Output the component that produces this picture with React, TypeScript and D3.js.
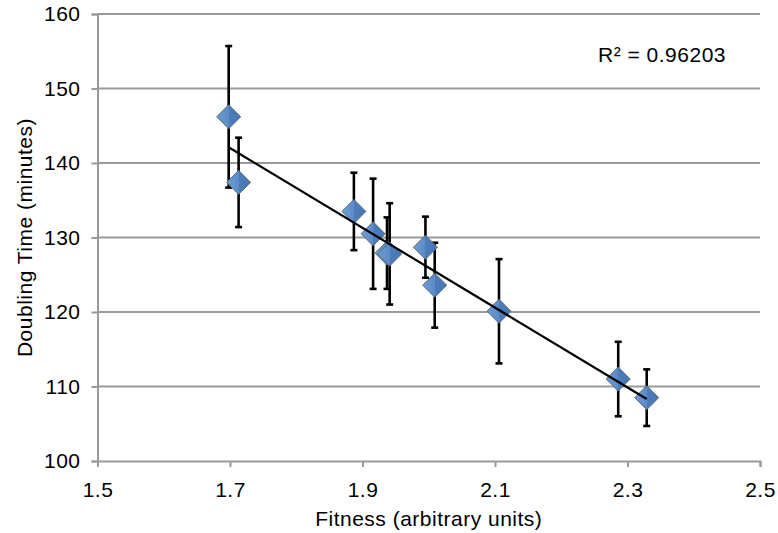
import React, { useEffect, useRef } from "react";
import * as d3 from "d3";

// values
const fitness = [1.698, 1.713, 1.887, 1.916, 1.937, 1.941, 1.995, 2.009, 2.106, 2.286, 2.329];
const doublingTime = [146.2, 137.4, 133.5, 130.5, 127.9, 127.8, 128.7, 123.6, 120.1, 111.0, 108.5];
const errors = [9.5, 6.0, 5.2, 7.4, 4.8, 6.8, 4.1, 5.7, 7.0, 5.0, 3.8];
const xTicks = [1.5, 1.7, 1.9, 2.1, 2.3, 2.5];
const yTicks = [100, 110, 120, 130, 140, 150, 160];
const rSquaredLabel = "R² = 0.96203";

const W = 778;
const H = 533;
const margin = { top: 14, right: 18, bottom: 72, left: 97.5 };

export default function App() {
  const ref = useRef<SVGSVGElement>(null);

  useEffect(() => {
    const svg = d3.select(ref.current);
    svg.selectAll("*").remove();

    const font = "'Liberation Sans', Arial, Helvetica, sans-serif";
    const fs = 21;
    const ls = 0.5;
    const x = d3.scaleLinear().domain([1.5, 2.5]).range([margin.left, W - margin.right]);
    const y = d3.scaleLinear().domain([100, 160]).range([H - margin.bottom, margin.top]);

    const defs = svg.append("defs");
    const grad = defs.append("linearGradient").attr("id", "dia").attr("x1", "0").attr("x2", "1").attr("y1", "0").attr("y2", "0");
    grad.append("stop").attr("offset", "0").attr("stop-color", "#6f9dd3");
    grad.append("stop").attr("offset", "0.5").attr("stop-color", "#5b8bc8");
    grad.append("stop").attr("offset", "0.5").attr("stop-color", "#4d7dbb");
    grad.append("stop").attr("offset", "1").attr("stop-color", "#4676b4");

    // grid lines
    svg.append("g").selectAll("line").data(yTicks.filter((t) => t > 100)).join("line")
      .attr("x1", x(1.5)).attr("x2", x(2.5))
      .attr("y1", (d) => y(d)).attr("y2", (d) => y(d))
      .attr("stroke", "#9a9a9a").attr("stroke-width", 2);

    // y axis
    const yAxis = svg.append("g").attr("transform", `translate(${x(1.5)},0)`)
      .call(d3.axisLeft(y).tickValues(yTicks).tickSize(6).tickPadding(11).tickFormat(d3.format("d")));
    yAxis.select(".domain").attr("stroke", "#9a9a9a").attr("stroke-width", 2);
    yAxis.selectAll(".tick line").attr("stroke", "#9a9a9a").attr("stroke-width", 2);
    yAxis.selectAll("text").attr("font-family", font).attr("font-size", fs)
      .attr("letter-spacing", ls).attr("fill", "#000");

    // x axis
    const xAxis = svg.append("g").attr("transform", `translate(0,${y(100)})`)
      .call(d3.axisBottom(x).tickValues(xTicks).tickSize(6).tickPadding(15).tickFormat(d3.format(".1f")));
    xAxis.select(".domain").attr("stroke", "#9a9a9a").attr("stroke-width", 2);
    xAxis.selectAll(".tick line").attr("stroke", "#9a9a9a").attr("stroke-width", 2);
    xAxis.selectAll("text").attr("font-family", font).attr("font-size", fs)
      .attr("letter-spacing", ls).attr("fill", "#000");

    const pts = fitness.map((f, i) => ({ x: f, y: doublingTime[i], e: errors[i] }));

    // error bars
    const eb = svg.append("g").attr("stroke", "#000").attr("stroke-width", 2.6);
    eb.selectAll("line.v").data(pts).join("line").attr("class", "v")
      .attr("x1", (d) => x(d.x)).attr("x2", (d) => x(d.x))
      .attr("y1", (d) => y(d.y + d.e)).attr("y2", (d) => y(d.y - d.e));
    eb.selectAll("line.t").data(pts).join("line").attr("class", "t")
      .attr("x1", (d) => x(d.x) - 3.5).attr("x2", (d) => x(d.x) + 3.5)
      .attr("y1", (d) => y(d.y + d.e)).attr("y2", (d) => y(d.y + d.e));
    eb.selectAll("line.b").data(pts).join("line").attr("class", "b")
      .attr("x1", (d) => x(d.x) - 3.5).attr("x2", (d) => x(d.x) + 3.5)
      .attr("y1", (d) => y(d.y - d.e)).attr("y2", (d) => y(d.y - d.e));

    // diamonds
    const s = 12;
    svg.append("g").selectAll("path").data(pts).join("path")
      .attr("d", (d) => {
        const cx = x(d.x), cy = y(d.y);
        return `M${cx},${cy - s}L${cx + s},${cy}L${cx},${cy + s}L${cx - s},${cy}Z`;
      })
      .attr("fill", "url(#dia)").attr("stroke", "#5d6b7a").attr("stroke-width", 1);

    // linear trend line
    const mx = d3.mean(fitness) as number;
    const my = d3.mean(doublingTime) as number;
    const sxy = d3.sum(fitness, (f, i) => (f - mx) * (doublingTime[i] - my));
    const sxx = d3.sum(fitness, (f) => (f - mx) * (f - mx));
    const slope = sxy / sxx;
    const icpt = my - slope * mx;
    const [x0, x1] = d3.extent(fitness) as [number, number];
    svg.append("line")
      .attr("x1", x(x0)).attr("y1", y(icpt + slope * x0))
      .attr("x2", x(x1)).attr("y2", y(icpt + slope * x1))
      .attr("stroke", "#000").attr("stroke-width", 2.2);

    svg.append("text").attr("x", 598).attr("y", 62).text(rSquaredLabel)
      .attr("font-family", font).attr("font-size", fs).attr("letter-spacing", ls).attr("fill", "#000");

    svg.append("text").attr("x", x(2.0)).attr("y", 526).attr("text-anchor", "middle")
      .text("Fitness (arbitrary units)")
      .attr("font-family", font).attr("font-size", fs).attr("letter-spacing", ls).attr("fill", "#000");

    svg.append("text")
      .attr("transform", `translate(32,${y(130)}) rotate(-90)`)
      .attr("text-anchor", "middle")
      .text("Doubling Time (minutes)")
      .attr("font-family", font).attr("font-size", fs).attr("letter-spacing", ls).attr("fill", "#000");
  }, []);

  return (
    <svg ref={ref} width={W} height={H}
      style={{ position: "absolute", left: 0, top: 0, background: "#fff" }} />
  );
}
